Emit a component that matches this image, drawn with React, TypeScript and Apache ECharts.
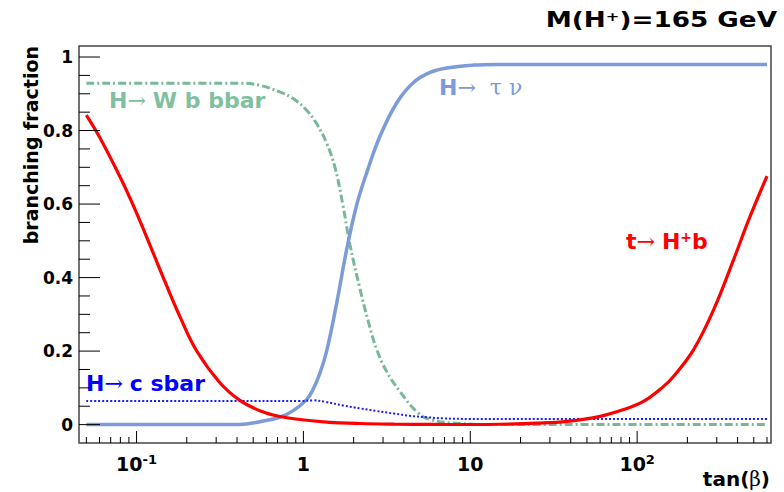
import React, { useEffect, useRef } from 'react';
import * as echarts from 'echarts';

// ---- data ----
const tanBetaTopHb = [0.05, 0.0602, 0.0812, 0.0995, 0.1217, 0.1496, 0.184, 0.229, 0.316, 0.416, 0.548, 0.722, 0.951, 1.38, 2.18, 3.5, 6, 10, 15, 25, 38, 60, 83, 109, 144, 165, 218, 287, 378, 466, 600];
const brTopHb = [0.842, 0.781, 0.666, 0.578, 0.483, 0.384, 0.289, 0.201, 0.114, 0.066, 0.038, 0.022, 0.014, 0.007, 0.003, 0.0012, 0.0005, 0.0003, 0.001, 0.004, 0.009, 0.0226, 0.041, 0.063, 0.104, 0.131, 0.204, 0.312, 0.448, 0.557, 0.676];

const tanBetaTauNu = [0.05, 0.2, 0.416, 0.548, 0.722, 0.869, 1.045, 1.14, 1.256, 1.378, 1.582, 1.823, 2.092, 2.394, 2.88, 3.62, 4.55, 5.74, 7.23, 10.4, 14.4, 100, 600];
const brTauNu = [0, 0, 0, 0.008, 0.02, 0.038, 0.068, 0.095, 0.14, 0.2, 0.33, 0.48, 0.6, 0.685, 0.785, 0.875, 0.93, 0.958, 0.97, 0.978, 0.98, 0.98, 0.98];

const tanBetaWbb = [0.05, 0.2, 0.416, 0.548, 0.722, 0.869, 1.045, 1.2, 1.38, 1.545, 1.72, 1.9, 2.18, 2.45, 2.75, 3.15, 3.79, 4.78, 5.74, 8.7, 15, 100, 600];
const brWbb = [0.929, 0.929, 0.929, 0.923, 0.905, 0.887, 0.855, 0.819, 0.765, 0.7, 0.6, 0.49, 0.37, 0.28, 0.204, 0.145, 0.09, 0.035, 0.014, 0.003, 0, 0, 0];

const tanBetaCs = [0.05, 0.5, 0.95, 1.15, 1.35, 1.73, 2.2, 2.75, 3.5, 4.35, 5.5, 6.9, 10, 600];
const brCs = [0.064, 0.064, 0.064, 0.066, 0.062, 0.052, 0.044, 0.037, 0.03, 0.024, 0.02, 0.017, 0.0155, 0.0155];

const xMinorTicks = [0.05, 0.06, 0.07, 0.08, 0.09, 0.2, 0.3, 0.4, 0.5, 0.6, 0.7, 0.8, 0.9, 2, 3, 4, 5, 6, 7, 8, 9, 20, 30, 40, 50, 60, 70, 80, 90, 200, 300, 400, 500, 600];
const xMajorTicks = [0.1, 1, 10, 100];
const yLabelValues = [0, 0.2, 0.4, 0.6, 0.8, 1];
const yMinorTicks = [0.05, 0.1, 0.15, 0.25, 0.3, 0.35, 0.45, 0.5, 0.55, 0.65, 0.7, 0.75, 0.85, 0.9, 0.95];

const X_MIN = 0.0452;
const X_MAX = 634;
const Y_MIN = -0.05;
const Y_MAX = 1.03;

const SANS = "'DejaVu Sans', 'Liberation Sans', sans-serif";
const SERIF = "'DejaVu Serif', 'Liberation Serif', serif";

const pairs = (xs: number[], ys: number[]) => xs.map((x, i) => [x, ys[i]]);

function tickSeries(values: number[], axis: 'x' | 'y', len: number) {
  return {
    type: 'custom',
    silent: true,
    z: 6,
    clip: false,
    data: values.map((v) => (axis === 'x' ? [v, 0] : [1, v])),
    encode: { x: 0, y: 1 },
    renderItem: (params: any, api: any) => {
      const cs = params.coordSys;
      const p = api.coord([api.value(0), api.value(1)]);
      if (axis === 'x') {
        const b = cs.y + cs.height;
        return { type: 'line', shape: { x1: p[0], y1: b, x2: p[0], y2: b - len }, style: { stroke: '#000', lineWidth: 1 } };
      }
      return { type: 'line', shape: { x1: cs.x, y1: p[1], x2: cs.x + len, y2: p[1] }, style: { stroke: '#000', lineWidth: 1 } };
    },
  };
}

function buildOption() {
  const lbl = (color: string, size = 22) => ({
    h: { fontFamily: SANS, fontWeight: 'bold', fontSize: size, fill: color },
    r: { fontFamily: SERIF, fontWeight: 'normal', fontSize: size, fill: color },
    s: { fontFamily: SANS, fontWeight: 'bold', fontSize: 14, fill: color, verticalAlign: 'top' },
  });
  return {
    animation: false,
    backgroundColor: '#ffffff',
    grid: {
      left: 79,
      right: 13,
      top: 46,
      bottom: 49,
      show: true,
      borderColor: '#444',
      borderWidth: 1.5,
      backgroundColor: 'transparent',
      containLabel: false,
      outerBoundsMode: 'none',
    },
    xAxis: {
      type: 'log',
      logBase: 10,
      min: X_MIN,
      max: X_MAX,
      axisLine: { show: false },
      axisTick: { show: false },
      splitLine: { show: false },
      minorTick: { show: false },
      axisLabel: {
        margin: 10,
        showMinLabel: false,
        showMaxLabel: false,
        formatter: (val: number) => {
          const e = Math.log10(val);
          const r = Math.round(e);
          if (Math.abs(e - r) > 1e-6) return '';
          if (r === 0) return '{b|1}';
          if (r === 1) return '{b|10}';
          return `{b|10}{s|${r}}`;
        },
        rich: {
          b: { fontFamily: SANS, fontWeight: 'bold', fontSize: 19, color: '#000', lineHeight: 22 },
          s: { fontFamily: SANS, fontWeight: 'bold', fontSize: 13, color: '#000', verticalAlign: 'top', lineHeight: 14 },
        },
      },
    },
    yAxis: {
      type: 'value',
      min: Y_MIN,
      max: Y_MAX,
      axisLine: { show: false },
      axisTick: { show: false },
      splitLine: { show: false },
      axisLabel: {
        customValues: yLabelValues,
        margin: 6,
        color: '#000',
        fontFamily: SANS,
        fontWeight: 'bold',
        fontSize: 17,
        formatter: (v: number) => String(v),
      },
    },
    series: [
      {
        name: 'H→Wbb',
        type: 'line',
        data: pairs(tanBetaWbb, brWbb),
        showSymbol: false,
        smooth: 0.4,
        lineStyle: { color: '#78b898', width: 3, type: [8, 3, 2, 3] },
        z: 2,
      },
      {
        name: 'H→τν',
        type: 'line',
        data: pairs(tanBetaTauNu, brTauNu),
        showSymbol: false,
        smooth: 0.4,
        lineStyle: { color: '#7b9bd9', width: 3.5 },
        z: 3,
      },
      {
        name: 'H→csbar',
        type: 'line',
        data: pairs(tanBetaCs, brCs),
        showSymbol: false,
        smooth: 0.4,
        lineStyle: { color: '#1a1aff', width: 2, type: [2, 2] },
        z: 3,
      },
      {
        name: 't→H+b',
        type: 'line',
        data: pairs(tanBetaTopHb, brTopHb),
        showSymbol: false,
        smooth: 0.4,
        lineStyle: { color: '#ff0000', width: 3.2 },
        z: 4,
      },
      tickSeries(xMajorTicks, 'x', 12),
      tickSeries(xMinorTicks, 'x', 6),
      tickSeries(yLabelValues, 'y', 21),
      tickSeries(yMinorTicks, 'y', 11),
    ],
    graphic: {
      elements: [
        {
          type: 'text',
          x: 777,
          y: 20,
          scaleX: 1.25,
          style: {
            text: '{a|M(H}{s|+}{a|)=165 GeV}',
            align: 'right',
            verticalAlign: 'middle',
            rich: {
              a: { fontFamily: SANS, fontWeight: 'bold', fontSize: 21, fill: '#000' },
              s: { fontFamily: SANS, fontWeight: 'bold', fontSize: 13, fill: '#000', verticalAlign: 'top' },
            },
          },
        },
        {
          type: 'text',
          x: 31,
          y: 46,
          rotation: Math.PI / 2,
          style: {
            text: 'branching fraction',
            fontFamily: SANS,
            fontWeight: 'bold',
            fontSize: 19,
            fill: '#000',
            align: 'right',
            verticalAlign: 'middle',
          },
        },
        {
          type: 'text',
          x: 770,
          y: 479,
          style: {
            text: '{a|tan(}{g|β}{a|)}',
            align: 'right',
            verticalAlign: 'middle',
            rich: {
              a: { fontFamily: SANS, fontWeight: 'bold', fontSize: 20, fill: '#000' },
              g: { fontFamily: SERIF, fontWeight: 'normal', fontSize: 20, fill: '#000' },
            },
          },
        },
        {
          type: 'text',
          x: 109,
          y: 100,
          style: { text: '{h|H}{r|→ }{h|W b bbar}', align: 'left', verticalAlign: 'middle', rich: lbl('#80c0a0') },
        },
        {
          type: 'text',
          x: 439,
          y: 87,
          style: { text: '{h|H}{r|→  τ ν}', align: 'left', verticalAlign: 'middle', rich: lbl('#7b9bd9') },
        },
        {
          type: 'text',
          x: 626,
          y: 241,
          style: { text: '{h|t}{r|→ }{h|H}{s|+}{h|b}', align: 'left', verticalAlign: 'middle', rich: lbl('#ff0000') },
        },
        {
          type: 'text',
          x: 86,
          y: 383,
          style: { text: '{h|H}{r|→ }{h|c sbar}', align: 'left', verticalAlign: 'middle', rich: lbl('#0000ff') },
        },
      ],
    },
  };
}

export default function App() {
  const ref = useRef<HTMLDivElement>(null);
  useEffect(() => {
    if (!ref.current) return;
    const chart = echarts.init(ref.current, null, { renderer: 'svg' });
    chart.setOption(buildOption() as any);
    return () => chart.dispose();
  }, []);
  return <div ref={ref} style={{ position: 'fixed', left: 0, top: 0, width: 784, height: 492 }} />;
}
